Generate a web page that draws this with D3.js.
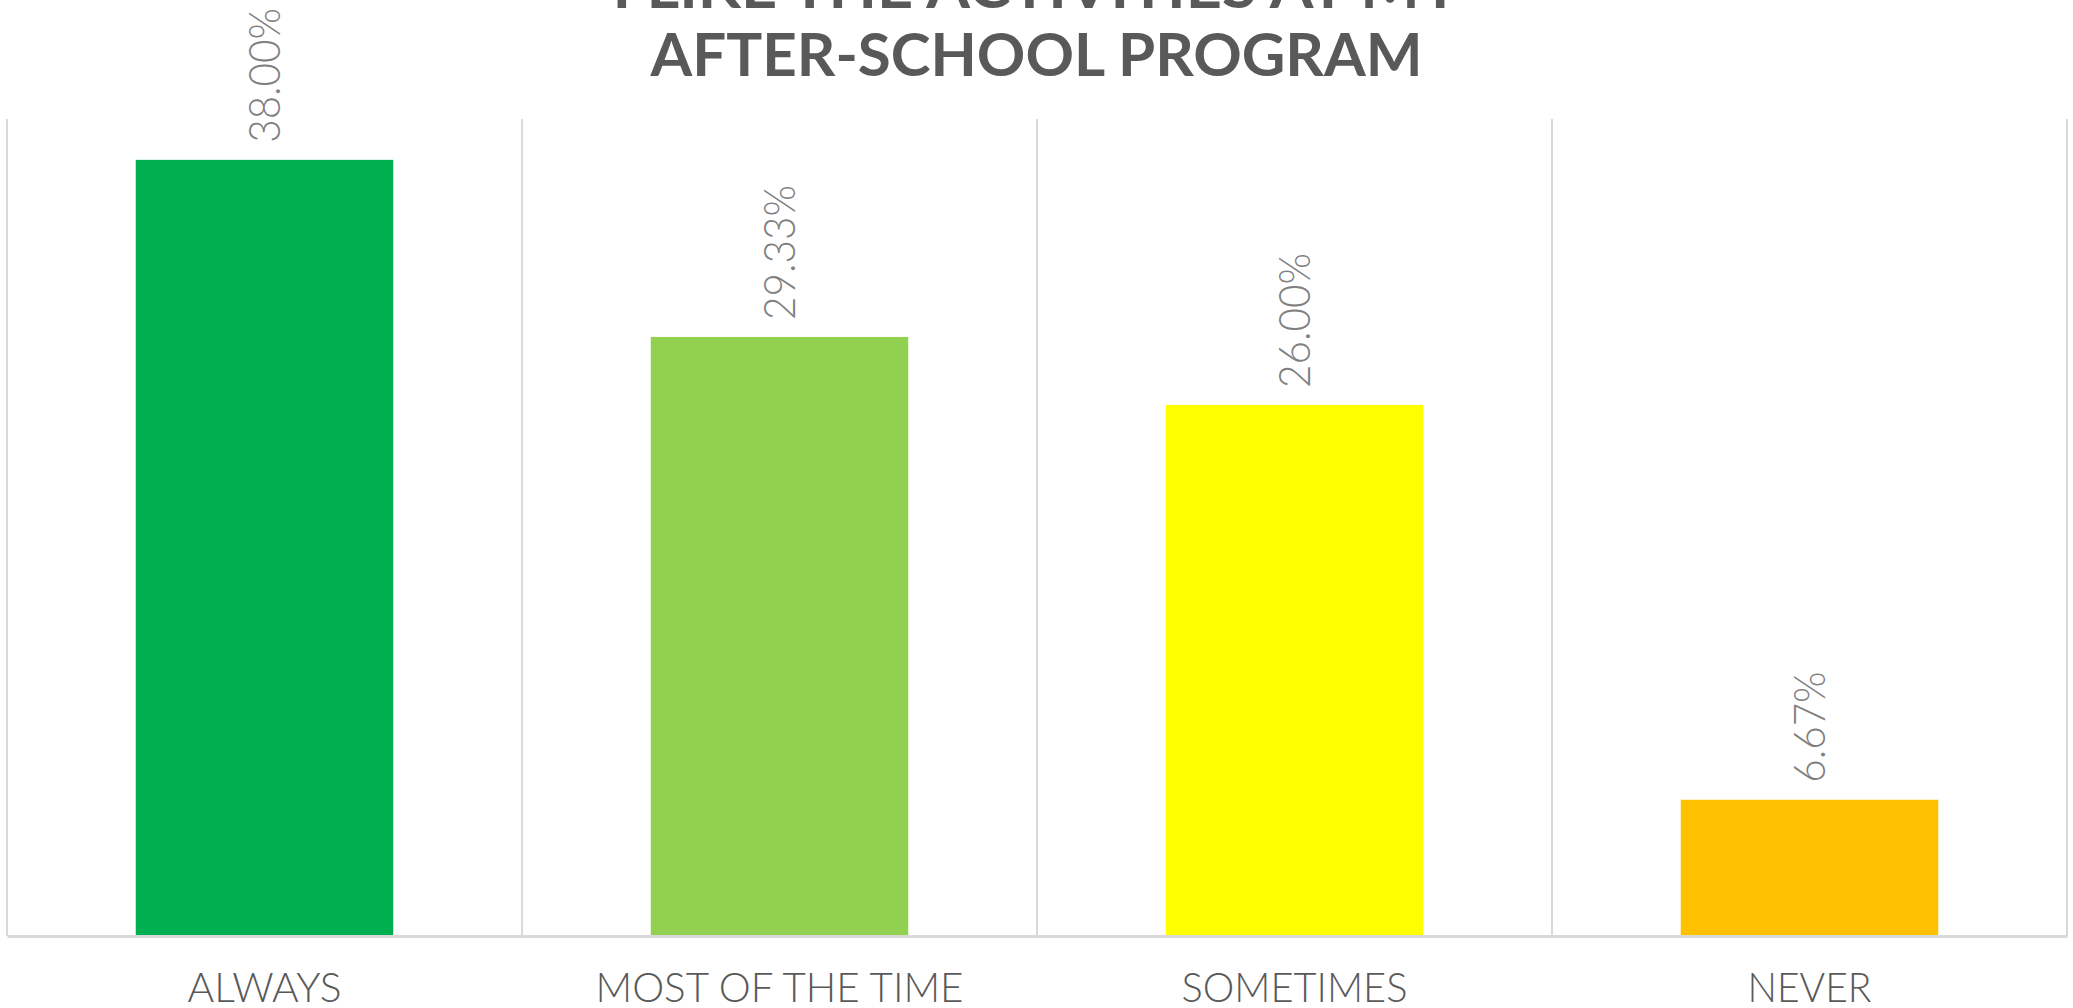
<!DOCTYPE html>
<html>
<head>
<meta charset="utf-8">
<script src="https://cdn.jsdelivr.net/npm/d3@7"></script>
<style>
  html, body { margin: 0; padding: 0; background: #ffffff; overflow: hidden; }
  svg { display: block; }
</style>
</head>
<body>
<svg id="chart" width="2073" height="1008"></svg>
<script>
// ---- data ----
const categories = ["ALWAYS", "MOST OF THE TIME", "SOMETIMES", "NEVER"];
const values = [38.00, 29.33, 26.00, 6.67];
const valueLabels = ["38.00%", "29.33%", "26.00%", "6.67%"];
const barColors = ["#00B050", "#92D050", "#FFFF00", "#FFC000"];
const titleLines = ["I LIKE THE ACTIVITIES AT MY", "AFTER-SCHOOL PROGRAM"];
const yMax = 40;

// ---- layout ----
const W = 2073, H = 1008;
const plot = { left: 7, right: 2067, top: 119, bottom: 936 };
const svg = d3.select("#chart");
const font = "Lato, 'Open Sans', 'DejaVu Sans', sans-serif";

const x = d3.scaleBand()
  .domain(categories)
  .range([plot.left, plot.right])
  .paddingInner(0.5)
  .paddingOuter(0.25);
const y = d3.scaleLinear().domain([0, yMax]).range([plot.bottom, plot.top]);

// vertical category separators (gridlines between bands)
const step = x.step();
const seps = d3.range(categories.length + 1).map(i => plot.left + i * step);
svg.append("g").selectAll("line").data(seps).join("line")
  .attr("x1", d => d).attr("x2", d => d)
  .attr("y1", plot.top).attr("y2", plot.bottom)
  .attr("stroke", "#d9d9d9").attr("stroke-width", 2);

// bars
svg.append("g").selectAll("rect").data(values).join("rect")
  .attr("x", (d, i) => x(categories[i]))
  .attr("width", x.bandwidth())
  .attr("y", d => y(d))
  .attr("height", d => y(0) - y(d))
  .attr("fill", (d, i) => barColors[i]);

// baseline axis
const xAxis = d3.axisBottom(x).tickSize(0).tickPadding(0);
const gx = svg.append("g").attr("transform", `translate(0,${plot.bottom})`).call(xAxis);
gx.select(".domain").attr("stroke", "#d9d9d9").attr("stroke-width", 3);
const axisWidths = { "ALWAYS": 154, "MOST OF THE TIME": 368, "SOMETIMES": 226, "NEVER": 124 };
gx.selectAll(".tick text")
  .attr("y", 66).attr("dy", 0)
  .attr("font-family", font)
  .attr("font-weight", 300)
  .attr("font-size", 41)
  .attr("fill", "#595959")
  .attr("text-anchor", "middle")
  .attr("textLength", d => axisWidths[d])
  .attr("lengthAdjust", "spacingAndGlyphs");

// data labels (rotated)
svg.append("g").selectAll("text").data(values).join("text")
  .attr("transform", (d, i) => {
    const cx = x(categories[i]) + x.bandwidth() / 2;
    return `translate(${cx},${y(d) - 17}) rotate(-90)`;
  })
  .attr("dy", "0.36em")
  .attr("text-anchor", "start")
  .attr("font-family", font)
  .attr("font-weight", 300)
  .attr("font-size", 44)
  .attr("fill", "#808080")
  .text((d, i) => valueLabels[i])
  .each(function (d, i) {
    const natural = this.getComputedTextLength();
    d3.select(this).attr("textLength", natural * 0.92).attr("lengthAdjust", "spacingAndGlyphs");
  });

// title
const title = svg.append("g");
const titleBaselines = [8, 76];
const titleWidths = [848, 772];
titleLines.forEach((t, i) => {
  title.append("text")
    .attr("x", W / 2)
    .attr("y", titleBaselines[i])
    .attr("text-anchor", "middle")
    .attr("font-family", font)
    .attr("font-weight", 700)
    .attr("font-size", 59)
    .attr("fill", "#595959")
    .attr("textLength", titleWidths[i])
    .attr("lengthAdjust", "spacingAndGlyphs")
    .text(t);
});
</script>
</body>
</html>
